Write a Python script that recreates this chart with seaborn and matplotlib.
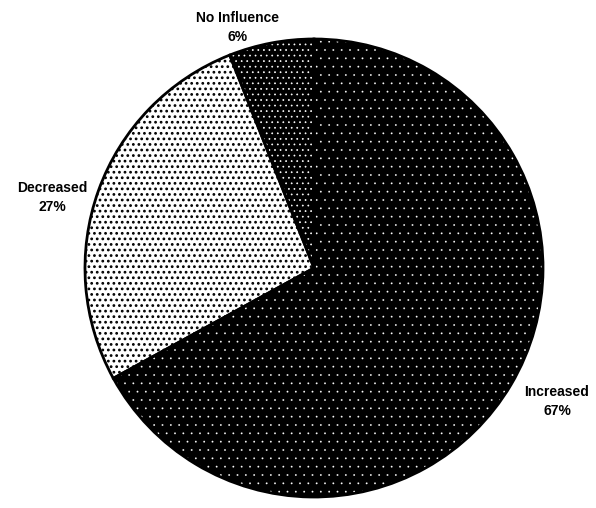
import seaborn as sns
import matplotlib.pyplot as plt

categories = ['Increased', 'Decreased', 'No Influence']
shares = [67, 27, 6]
face_colors = ['black', 'white', 'black']
hatch_colors = ['white', 'black', 'white']
hatches = ['..', '...', '...']
hatch_widths = [0.1, 1.2, 0.5]
# label anchor points (data units, pie radius = 1)
label_x = [1.061, -1.144, -0.332]
label_y = [-0.581, 0.306, 1.052]

sns.set_theme(style='white')
plt.rcParams['font.family'] = ['Liberation Sans', 'DejaVu Sans']
plt.rcParams['hatch.linewidth'] = 0.6

fig = plt.figure(figsize=(5.96, 5.08), dpi=100)
ax = fig.add_axes([0, 0, 1, 1])

# fill with hatch (hatch takes the edge colour), no outline
wedges, _ = ax.pie(shares, startangle=90, counterclock=False,
                   colors=face_colors,
                   wedgeprops=dict(linewidth=0))
for w, h, hc, hw in zip(wedges, hatches, hatch_colors, hatch_widths):
    w.set_hatch(h)
    w.set_edgecolor(hc)
    if hasattr(w, 'set_hatch_linewidth'):
        w.set_hatch_linewidth(hw)

# black outline on top
ax.pie(shares, startangle=90, counterclock=False,
       colors=['none'] * len(shares),
       wedgeprops=dict(linewidth=2, edgecolor='black', facecolor='none'))

for name, pct, x, y in zip(categories, shares, label_x, label_y):
    ax.text(x, y, f'{name}\n{pct}%', ha='center', va='center',
            fontsize=10, fontweight='bold', linespacing=1.45, color='black')

ax.set_xlim(-314 / 229, (596 - 314) / 229)
ax.set_ylim(-(508 - 268) / 229, 268 / 229)
ax.set_aspect('equal')
ax.axis('off')

fig.savefig('out.png', dpi=100, facecolor='white')
